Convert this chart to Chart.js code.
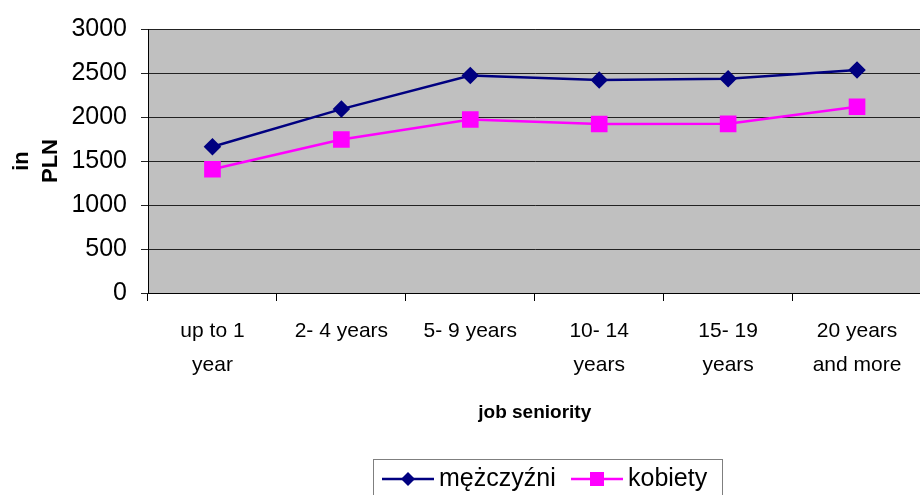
<!DOCTYPE html>
<html>
<head>
<meta charset="utf-8">
<script src="https://cdn.jsdelivr.net/npm/chart.js@4.4.1/dist/chart.umd.min.js"></script>
<style>
    html, body { margin: 0; padding: 0; background: #fff; overflow: hidden; }
    #wrap { width: 934px; height: 495px; position: relative; }
</style>
</head>
<body>
<div id="wrap"><canvas id="salaryChart"></canvas></div>
<script>
// categories and series
const seniority = [['up to 1', 'year'], '2- 4 years', '5- 9 years', ['10- 14', 'years'], ['15- 19', 'years'], ['20 years', 'and more']];
const men = [1662, 2090, 2472, 2420, 2435, 2534];
const women = [1406, 1744, 1972, 1920, 1922, 2117];
const yTicks = [0, 500, 1000, 1500, 2000, 2500, 3000];

// grey plot area like the spreadsheet default
const plotBackground = {
    id: 'plotBackground',
    beforeDraw(chart) {
        const { ctx, chartArea: a } = chart;
        ctx.save();
        ctx.fillStyle = '#c0c0c0';
        ctx.fillRect(a.left, a.top, a.right - a.left, a.bottom - a.top);
        ctx.strokeStyle = '#8c8c8c';
        ctx.lineWidth = 1;
        ctx.strokeRect(a.left + 0.5, a.top + 0.5, a.right - a.left, a.bottom - a.top);
        ctx.restore();
    }
};

// boxed legend with line + marker, drawn below the axis title
const boxLegend = {
    id: 'boxLegend',
    afterDraw(chart) {
        const ctx = chart.ctx;
        const ds = chart.data.datasets;
        const y = 479;
        ctx.save();
        ctx.strokeStyle = '#7f7f7f';
        ctx.lineWidth = 1;
        ctx.strokeRect(373.5, 459.5, 349, 40);
        ctx.font = '25px "Liberation Sans", Arial, sans-serif';
        ctx.textBaseline = 'middle';
        const items = [{ x: 382, d: ds[0] }, { x: 571, d: ds[1] }];
        items.forEach(it => {
            ctx.strokeStyle = it.d.borderColor;
            ctx.lineWidth = 2.5;
            ctx.beginPath();
            ctx.moveTo(it.x, y);
            ctx.lineTo(it.x + 52, y);
            ctx.stroke();
            const cx = it.x + 26;
            ctx.fillStyle = it.d.pointBackgroundColor;
            ctx.beginPath();
            if (it.d.pointStyle === 'rectRot') {
                ctx.moveTo(cx, y - 7);
                ctx.lineTo(cx + 7, y);
                ctx.lineTo(cx, y + 7);
                ctx.lineTo(cx - 7, y);
            } else {
                ctx.rect(cx - 7, y - 7, 14, 14);
            }
            ctx.fill();
            ctx.fillStyle = '#000';
            ctx.fillText(it.d.label, it.x + 57, y);
        });
        ctx.restore();
    }
};

const ctx = document.getElementById('salaryChart').getContext('2d');
const salaryChart = new Chart(ctx, {
    type: 'line',
    data: {
        labels: seniority,
        datasets: [
            {
                label: 'mężczyźni',
                data: men,
                borderColor: '#000080',
                backgroundColor: '#000080',
                pointBackgroundColor: '#000080',
                pointBorderColor: '#000080',
                pointStyle: 'rectRot',
                pointRadius: 7,
                pointHoverRadius: 7,
                borderWidth: 2.5,
                tension: 0
            },
            {
                label: 'kobiety',
                data: women,
                borderColor: '#ff00ff',
                backgroundColor: '#ff00ff',
                pointBackgroundColor: '#ff00ff',
                pointBorderColor: '#ff00ff',
                pointStyle: 'rect',
                pointRadius: 10,
                pointHoverRadius: 10,
                borderWidth: 2.5,
                tension: 0
            }
        ]
    },
    options: {
        responsive: true,
        maintainAspectRatio: false,
        animation: false,
        layout: { padding: { top: 29, right: 0, bottom: 70, left: 0 } },
        plugins: {
            legend: { display: false },
            tooltip: { enabled: false }
        },
        scales: {
            x: {
                offset: true,
                grid: { offset: true, drawOnChartArea: false, drawTicks: true, tickLength: 8, color: '#000' },
                border: { color: '#000', width: 1 },
                ticks: {
                    color: '#000',
                    padding: 13,
                    maxRotation: 0,
                    autoSkip: false,
                    font: { family: '"Liberation Sans", Arial', size: 21, lineHeight: 1.64 }
                },
                title: {
                    display: true,
                    text: 'job seniority',
                    color: '#000',
                    padding: { top: 0, bottom: 1 },
                    font: { family: '"Liberation Sans", Arial', size: 19, weight: 'bold' }
                },
                afterFit(scale) { scale.height = 132; }
            },
            y: {
                min: 0,
                max: 3000,
                afterBuildTicks(scale) { scale.ticks = yTicks.map(v => ({ value: v })); },
                grid: { color: '#222', lineWidth: 1, drawTicks: true, tickLength: 7 },
                border: { color: '#000', width: 1 },
                ticks: {
                    color: '#000',
                    padding: 14,
                    callback: v => String(v),
                    font: { family: '"Liberation Sans", Arial', size: 25 }
                },
                title: {
                    display: true,
                    text: ['in', 'PLN'],
                    color: '#000',
                    padding: { top: 8, bottom: 0 },
                    font: { family: '"Liberation Sans", Arial', size: 22, weight: 'bold', lineHeight: 1.3 }
                },
                afterFit(scale) { scale.width = 148; }
            }
        }
    },
    plugins: [plotBackground, boxLegend]
});
</script>
</body>
</html>
